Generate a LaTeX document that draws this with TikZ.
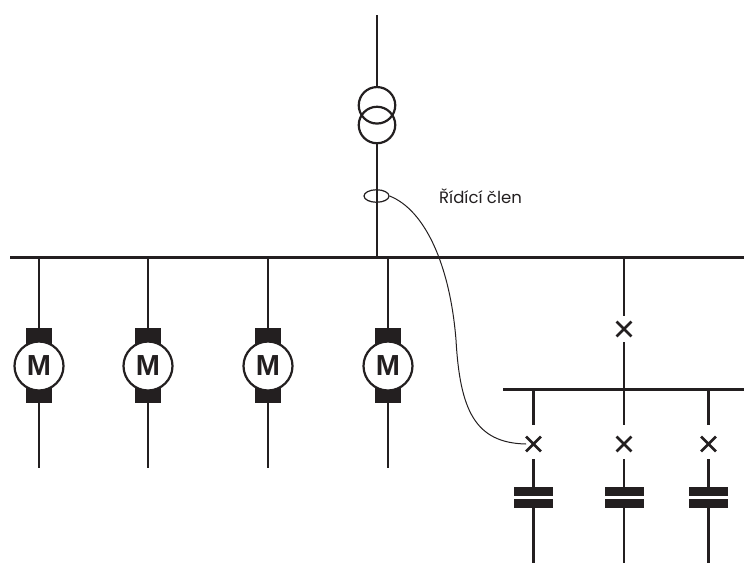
\documentclass[tikz,border=0pt]{standalone}
\usepackage{fontspec}
\setmainfont{Poppins}
\newfontfamily\motorfont{Liberation Sans}
\usetikzlibrary{shapes.misc,shapes.geometric}
\definecolor{ink}{HTML}{231F20}
\tikzset{
  x=1pt,y=-1pt,
  wire/.style={draw=ink,line width=2.5pt},
  busbar/.style={draw=ink,line width=3pt},
  subbar/.style={draw=ink,line width=2.4pt},
  thin wire/.style={draw=ink,line width=1pt},
  coil/.style={circle,draw=ink,line width=2.2pt,minimum size=36.5pt,inner sep=0},
  motorbody/.style={circle,draw=ink,fill=white,line width=2.2pt,minimum size=49pt,inner sep=0,font=\motorfont\bfseries\fontsize{29pt}{29pt}\selectfont,text=ink},
  brush/.style={fill=ink,minimum width=26pt,minimum height=75pt,inner sep=0},
  breaker/.style={cross out,draw=ink,line width=2.8pt,minimum size=12pt,inner sep=0},
  plate/.style={fill=ink,minimum width=39pt,minimum height=8.5pt,inner sep=0},
  sensor/.style={ellipse,draw=ink,line width=1.2pt,minimum width=25pt,minimum height=12.5pt,inner sep=0},
  gap end/.style={shorten >=#1},
  gap start/.style={shorten <=#1},
}
\begin{document}
\begin{tikzpicture}
\useasboundingbox (0,0) rectangle (744,563);
% buses
\coordinate (busL) at (10,257); \coordinate (busR) at (744,257);
\coordinate (subL) at (503,389.5); \coordinate (subR) at (744,389.5);
\draw[busbar] (busL) -- (busR);
\draw[subbar] (subL) -- (subR);
% transformer
\coordinate (top) at (377,15);
\coordinate (busT) at (377,257);
\node[coil] (t1) at (377,105.3) {};
\node[coil] (t2) at (377,125) {};
\node[sensor] (ct) at (376.5,196) {};
\draw[wire] (top) -- (t1.north);
\draw[wire] (t2.south) -- (busT);
\node[anchor=west,inner sep=0,font=\fontsize{16.5pt}{16.5pt}\selectfont,text=ink] (lab) at (439,196) {Řídící člen};
% motors
\foreach \i/\mx in {1/39,2/148,3/268,4/388}{
  \coordinate (ma\i) at (\mx,257);
  \coordinate (mb\i) at (\mx,468);
  \node[brush] (br\i) at (\mx,365.5) {};
  \node[motorbody] (m\i) at (\mx,366) {M};
  \draw[wire] (ma\i) -- (br\i.north);
  \draw[wire] (br\i.south) -- (mb\i);
}
% feeder
\coordinate (fa) at (624,257);
\coordinate (fb) at (624,389.5);
\node[breaker] (q0) at (624,329) {};
\draw[wire,gap end=6pt] (fa) -- (q0.north);
\draw[wire,gap start=6pt] (q0.south) -- (fb);
% capacitor branches
\foreach \i/\cx in {1/533.5,2/624,3/708.5}{
  \coordinate (ca\i) at (\cx,389.5);
  \coordinate (cb\i) at (\cx,563);
  \node[breaker] (q\i) at (\cx,444) {};
  \node[plate] (pa\i) at (\cx,491.5) {};
  \node[plate] (pb\i) at (\cx,503.5) {};
  \draw[wire,gap end=12pt] (ca\i) -- (q\i.north);
  \draw[wire,gap start=8pt] (q\i.south) -- (pa\i.north);
  \draw[wire] (pb\i.south) -- (cb\i);
}
% control curve
\draw[thin wire] (ct.east) .. controls (425,210) and (450,265) .. (456,340)
  .. controls (460,410) and (475,443) .. (q1.west);
\end{tikzpicture}
\end{document}
